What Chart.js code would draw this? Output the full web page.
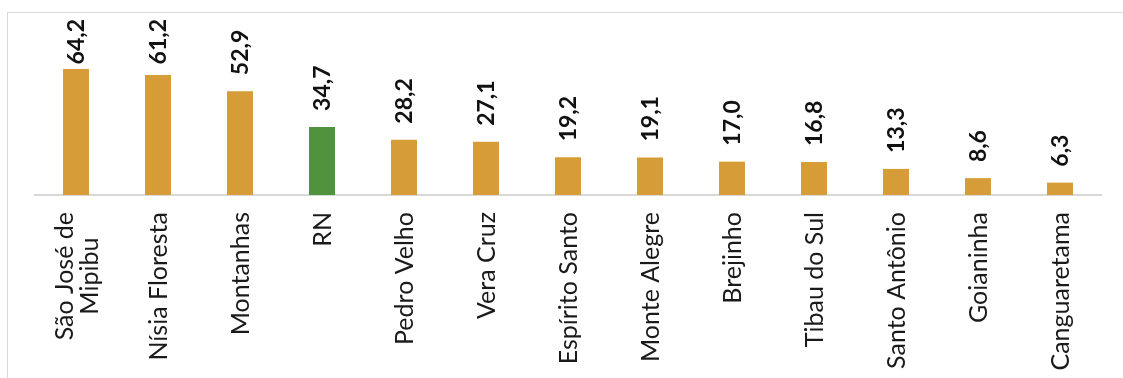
<!DOCTYPE html>
<html><head><meta charset="utf-8">
<script src="https://cdn.jsdelivr.net/npm/chart.js@4.4.1/dist/chart.umd.min.js"></script>
<style>html,body{margin:0;padding:0;background:#fff;overflow:hidden}</style>
</head><body>
<canvas id="c" width="1123" height="378" style="display:block;width:1123px;height:378px"></canvas>
<script>
const categories = [["São José de","Mipibu"],"Nísia Floresta","Montanhas","RN","Pedro Velho","Vera Cruz","Espírito Santo","Monte Alegre","Brejinho","Tibau do Sul","Santo Antônio","Goianinha","Canguaretama"];
const values = [64.2,61.2,52.9,34.7,28.2,27.1,19.2,19.1,17.0,16.8,13.3,8.6,6.3];
const highlightCategory = "RN";
const valueLabels = values.map(v => v.toFixed(1).replace('.', ','));

const ORANGE = 'rgb(214,156,55)';
const GREEN = 'rgb(80,146,62)';
const FONT = 'Lato';

const borderPlugin = {
  id: 'outerBorder',
  beforeDraw(chart) {
    const ctx = chart.ctx;
    ctx.save();
    ctx.fillStyle = '#fff';
    ctx.fillRect(0, 0, chart.width, chart.height);
    ctx.strokeStyle = '#d9d9d9';
    ctx.lineWidth = 1;
    ctx.strokeRect(7.5, 12.5, 1300, 500);
    ctx.restore();
  }
};

const valueLabelPlugin = {
  id: 'valueLabels',
  afterDatasetsDraw(chart) {
    const ctx = chart.ctx;
    const meta = chart.getDatasetMeta(0);
    ctx.save();
    ctx.font = 'bold 23px ' + FONT;
    ctx.fillStyle = '#111';
    ctx.textBaseline = 'middle';
    ctx.textAlign = 'left';
    meta.data.forEach((bar, i) => {
      const t = valueLabels[i];
      const w = ctx.measureText(t).width;
      let start = bar.y - 16;
      if (start - w < 19) start = 19 + w;
      ctx.save();
      ctx.translate(bar.x + 1, start);
      ctx.rotate(-Math.PI / 2);
      ctx.fillText(t, 0, 0);
      ctx.restore();
    });
    ctx.restore();
  }
};

// Category labels: rotated, multi-line labels centred on each other (as in the original)
const categoryLabelPlugin = {
  id: 'categoryLabels',
  afterDraw(chart) {
    const ctx = chart.ctx;
    const xScale = chart.scales.x;
    const top = chart.chartArea.bottom + 17;
    const lineH = 25;
    ctx.save();
    ctx.font = '25px ' + FONT;
    ctx.fillStyle = '#1a1a1a';
    ctx.textBaseline = 'middle';
    ctx.textAlign = 'center';
    chart.data.labels.forEach((lab, i) => {
      const lines = Array.isArray(lab) ? lab : [lab];
      const maxW = Math.max(...lines.map(l => ctx.measureText(l).width));
      const x = xScale.getPixelForValue(i);
      lines.forEach((line, j) => {
        const off = (j - (lines.length - 1) / 2) * lineH;
        ctx.save();
        ctx.translate(x + off + 1, top + maxW / 2);
        ctx.rotate(-Math.PI / 2);
        ctx.fillText(line, 0, 0);
        ctx.restore();
      });
    });
    ctx.restore();
  }
};

new Chart(document.getElementById('c'), {
  type: 'bar',
  data: {
    labels: categories,
    datasets: [{
      data: values,
      backgroundColor: categories.map(c => c === highlightCategory ? GREEN : ORANGE),
      barPercentage: 1,
      categoryPercentage: 0.317
    }]
  },
  options: {
    responsive: false,
    animation: false,
    devicePixelRatio: 1,
    layout: { padding: { left: 35, right: 22, top: 38, bottom: 0 } },
    plugins: { legend: { display: false }, tooltip: { enabled: false } },
    scales: {
      y: { display: false, min: 0, max: 80 },
      x: {
        grid: { display: false, drawTicks: false },
        border: { display: true, color: '#d9d9d9', width: 2 },
        ticks: { display: false },
        afterFit(scale) { scale.height = 183; }
      }
    }
  },
  plugins: [borderPlugin, valueLabelPlugin, categoryLabelPlugin]
});
</script>
</body></html>
